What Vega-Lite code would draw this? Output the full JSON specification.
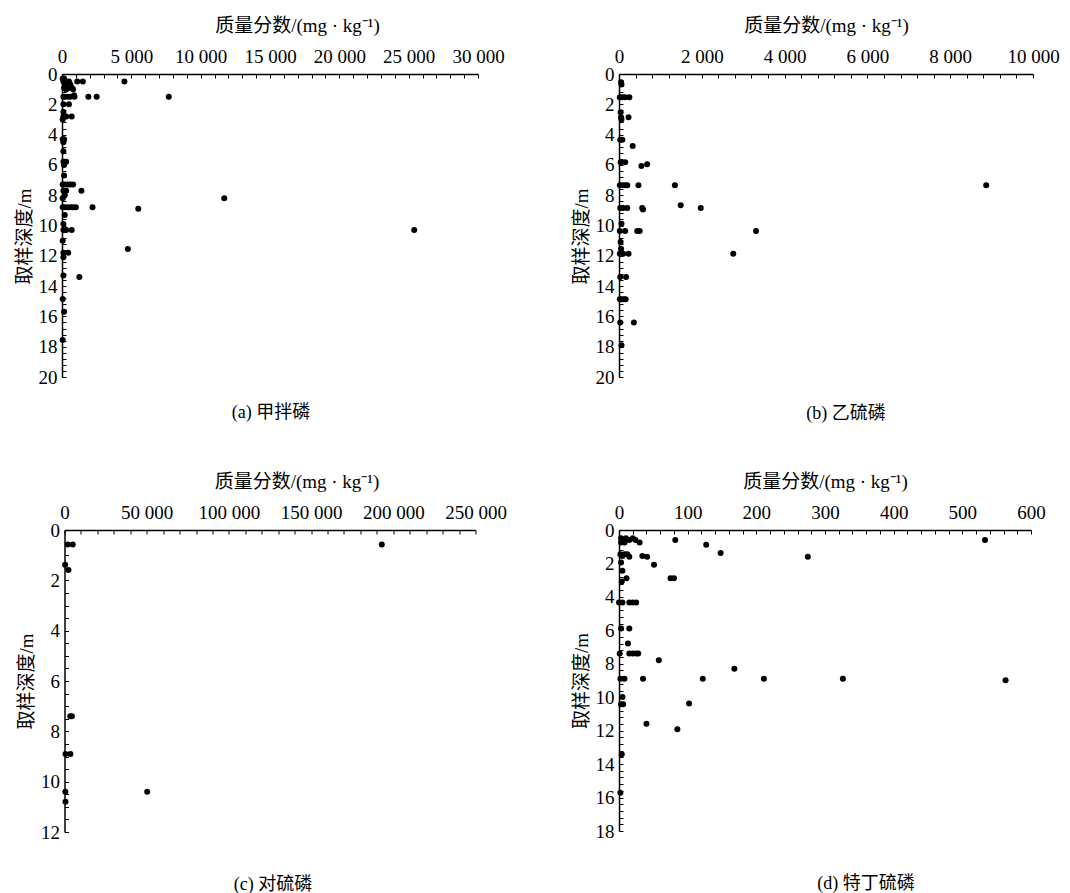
{
  "$schema": "https://vega.github.io/schema/vega-lite/v6.json",
  "background": "white",
  "padding": {"left": 15, "top": 16, "right": 0, "bottom": 0},
  "columns": 2,
  "bounds": "flush",
  "center": true,
  "spacing": {"column": 141, "row": 153},
  "datasets": {
    "a": [
      {"conc": 50, "depth": 0.3}, {"conc": 150, "depth": 0.3},
      {"conc": 100, "depth": 0.5}, {"conc": 300, "depth": 0.5}, {"conc": 500, "depth": 0.5}, {"conc": 1100, "depth": 0.5}, {"conc": 1500, "depth": 0.5}, {"conc": 4500, "depth": 0.5},
      {"conc": 200, "depth": 0.7}, {"conc": 400, "depth": 0.7}, {"conc": 600, "depth": 0.7},
      {"conc": 150, "depth": 0.9}, {"conc": 500, "depth": 0.9}, {"conc": 700, "depth": 0.9},
      {"conc": 300, "depth": 1.0}, {"conc": 800, "depth": 1.0},
      {"conc": 870, "depth": 1.4},
      {"conc": 100, "depth": 1.5}, {"conc": 200, "depth": 1.5}, {"conc": 400, "depth": 1.5}, {"conc": 600, "depth": 1.5}, {"conc": 900, "depth": 1.5}, {"conc": 1900, "depth": 1.5}, {"conc": 2500, "depth": 1.5}, {"conc": 7700, "depth": 1.5},
      {"conc": 100, "depth": 2.0}, {"conc": 500, "depth": 2.0},
      {"conc": 100, "depth": 2.5},
      {"conc": 100, "depth": 2.8}, {"conc": 300, "depth": 2.8}, {"conc": 700, "depth": 2.8},
      {"conc": 50, "depth": 3.0},
      {"conc": 50, "depth": 4.3}, {"conc": 150, "depth": 4.3}, {"conc": 100, "depth": 4.5},
      {"conc": 100, "depth": 5.1},
      {"conc": 100, "depth": 5.8}, {"conc": 200, "depth": 5.8}, {"conc": 300, "depth": 5.8}, {"conc": 150, "depth": 6.0},
      {"conc": 150, "depth": 6.7},
      {"conc": 50, "depth": 7.3}, {"conc": 200, "depth": 7.3}, {"conc": 400, "depth": 7.3}, {"conc": 600, "depth": 7.3}, {"conc": 800, "depth": 7.3},
      {"conc": 100, "depth": 7.7}, {"conc": 300, "depth": 7.7}, {"conc": 1400, "depth": 7.7},
      {"conc": 200, "depth": 8.0},
      {"conc": 50, "depth": 8.2}, {"conc": 11700, "depth": 8.2},
      {"conc": 50, "depth": 8.8}, {"conc": 200, "depth": 8.8}, {"conc": 400, "depth": 8.8}, {"conc": 600, "depth": 8.8}, {"conc": 800, "depth": 8.8}, {"conc": 1000, "depth": 8.8}, {"conc": 2200, "depth": 8.8}, {"conc": 5500, "depth": 8.9},
      {"conc": 200, "depth": 9.3},
      {"conc": 100, "depth": 9.9},
      {"conc": 100, "depth": 10.3}, {"conc": 300, "depth": 10.3}, {"conc": 700, "depth": 10.3}, {"conc": 25400, "depth": 10.3},
      {"conc": 50, "depth": 11.0},
      {"conc": 4750, "depth": 11.55},
      {"conc": 100, "depth": 11.8}, {"conc": 450, "depth": 11.8},
      {"conc": 100, "depth": 12.1},
      {"conc": 100, "depth": 13.3}, {"conc": 1250, "depth": 13.4},
      {"conc": 50, "depth": 14.85},
      {"conc": 150, "depth": 15.7},
      {"conc": 50, "depth": 17.55}
    ],
    "b": [
      {"conc": 50, "depth": 0.55}, {"conc": 60, "depth": 0.7},
      {"conc": 20, "depth": 1.53}, {"conc": 80, "depth": 1.53}, {"conc": 150, "depth": 1.53}, {"conc": 250, "depth": 1.53},
      {"conc": 40, "depth": 2.52},
      {"conc": 50, "depth": 2.85}, {"conc": 230, "depth": 2.85}, {"conc": 60, "depth": 3.0},
      {"conc": 30, "depth": 4.34}, {"conc": 80, "depth": 4.34},
      {"conc": 330, "depth": 4.76},
      {"conc": 40, "depth": 5.82}, {"conc": 150, "depth": 5.82}, {"conc": 680, "depth": 5.95}, {"conc": 540, "depth": 6.08},
      {"conc": 20, "depth": 7.35}, {"conc": 80, "depth": 7.35}, {"conc": 150, "depth": 7.35}, {"conc": 200, "depth": 7.35}, {"conc": 470, "depth": 7.35}, {"conc": 1350, "depth": 7.35}, {"conc": 8870, "depth": 7.35},
      {"conc": 1490, "depth": 8.67},
      {"conc": 30, "depth": 8.85}, {"conc": 100, "depth": 8.85}, {"conc": 200, "depth": 8.85}, {"conc": 560, "depth": 8.85}, {"conc": 1975, "depth": 8.85}, {"conc": 580, "depth": 8.95},
      {"conc": 60, "depth": 9.88},
      {"conc": 20, "depth": 10.37}, {"conc": 150, "depth": 10.37}, {"conc": 440, "depth": 10.37}, {"conc": 500, "depth": 10.37}, {"conc": 3310, "depth": 10.37},
      {"conc": 40, "depth": 11.09},
      {"conc": 50, "depth": 11.53},
      {"conc": 20, "depth": 11.86}, {"conc": 100, "depth": 11.86}, {"conc": 230, "depth": 11.86}, {"conc": 2760, "depth": 11.86},
      {"conc": 30, "depth": 13.4}, {"conc": 170, "depth": 13.4},
      {"conc": 20, "depth": 14.87}, {"conc": 60, "depth": 14.87}, {"conc": 120, "depth": 14.87}, {"conc": 160, "depth": 14.87},
      {"conc": 30, "depth": 16.41}, {"conc": 360, "depth": 16.41},
      {"conc": 60, "depth": 17.9}
    ],
    "c": [
      {"conc": 2000, "depth": 0.58}, {"conc": 5000, "depth": 0.58}, {"conc": 193000, "depth": 0.58},
      {"conc": 400, "depth": 1.38},
      {"conc": 2400, "depth": 1.59},
      {"conc": 3500, "depth": 7.4}, {"conc": 4500, "depth": 7.4},
      {"conc": 600, "depth": 8.9}, {"conc": 3600, "depth": 8.9},
      {"conc": 500, "depth": 10.4}, {"conc": 50300, "depth": 10.4},
      {"conc": 600, "depth": 10.8}
    ],
    "d": [
      {"conc": 3, "depth": 0.5}, {"conc": 10, "depth": 0.5}, {"conc": 20, "depth": 0.5},
      {"conc": 15, "depth": 0.6}, {"conc": 24, "depth": 0.6}, {"conc": 82, "depth": 0.6}, {"conc": 533, "depth": 0.6},
      {"conc": 3, "depth": 0.75}, {"conc": 8, "depth": 0.75}, {"conc": 30, "depth": 0.75},
      {"conc": 127, "depth": 0.88},
      {"conc": 148, "depth": 1.38},
      {"conc": 2, "depth": 1.45}, {"conc": 8, "depth": 1.45}, {"conc": 12, "depth": 1.45},
      {"conc": 5, "depth": 1.55}, {"conc": 34, "depth": 1.55},
      {"conc": 15, "depth": 1.6}, {"conc": 41, "depth": 1.6}, {"conc": 275, "depth": 1.6},
      {"conc": 3, "depth": 1.95},
      {"conc": 51, "depth": 2.08},
      {"conc": 5, "depth": 2.44},
      {"conc": 11, "depth": 2.88}, {"conc": 75, "depth": 2.88}, {"conc": 80, "depth": 2.88},
      {"conc": 4, "depth": 3.08},
      {"conc": 0, "depth": 4.33}, {"conc": 5, "depth": 4.33}, {"conc": 15, "depth": 4.33}, {"conc": 20, "depth": 4.33}, {"conc": 25, "depth": 4.33},
      {"conc": 3, "depth": 5.89}, {"conc": 15, "depth": 5.89},
      {"conc": 13, "depth": 6.79},
      {"conc": 1, "depth": 7.39}, {"conc": 15, "depth": 7.39}, {"conc": 20, "depth": 7.39}, {"conc": 25, "depth": 7.39}, {"conc": 28, "depth": 7.39},
      {"conc": 58, "depth": 7.79},
      {"conc": 168, "depth": 8.29},
      {"conc": 2, "depth": 8.89}, {"conc": 8, "depth": 8.89}, {"conc": 35, "depth": 8.89}, {"conc": 122, "depth": 8.89}, {"conc": 211, "depth": 8.89}, {"conc": 326, "depth": 8.89},
      {"conc": 563, "depth": 8.98},
      {"conc": 5, "depth": 9.98},
      {"conc": 3, "depth": 10.42}, {"conc": 6, "depth": 10.42}, {"conc": 102, "depth": 10.38},
      {"conc": 40, "depth": 11.58},
      {"conc": 85, "depth": 11.92},
      {"conc": 4, "depth": 13.41},
      {"conc": 2, "depth": 15.71}
    ]
  },
  "concat": [
    {
      "width": 416, "height": 303,
      "data": {"name": "a"},
      "title": {"text": "(a) 甲拌磷", "orient": "bottom", "frame": "group", "offset": 17, "dx": 1},
      "mark": {"type": "circle", "size": 36, "color": "black", "opacity": 1},
      "encoding": {
        "x": {"field": "conc", "type": "quantitative",
          "scale": {"domain": [0, 30000], "nice": false, "zero": true},
          "axis": {"orient": "top", "title": "质量分数/(mg · kg⁻¹)", "titleX": 235,
            "values": [0,1000,2000,3000,4000,5000,6000,7000,8000,9000,10000,11000,12000,13000,14000,15000,16000,17000,18000,19000,20000,21000,22000,23000,24000,25000,26000,27000,28000,29000,30000],
            "labelExpr": "datum.value % 5000 === 0 ? replace(format(datum.value, ','), ',', ' ') : ''"}},
        "y": {"field": "depth", "type": "quantitative",
          "scale": {"domain": [0, 20], "reverse": true, "nice": false},
          "axis": {"title": "取样深度/m", "titleY": 162,
            "values": [0,0.4,0.8,1.2,1.6,2,2.4,2.8,3.2,3.6,4,4.4,4.8,5.2,5.6,6,6.4,6.8,7.2,7.6,8,8.4,8.8,9.2,9.6,10,10.4,10.8,11.2,11.6,12,12.4,12.8,13.2,13.6,14,14.4,14.8,15.2,15.6,16,16.4,16.8,17.2,17.6,18,18.4,18.8,19.2,19.6,20],
            "labelExpr": "datum.value % 2 === 0 ? '' + datum.value : ''"}}
      }
    },
    {
      "width": 414, "height": 303,
      "data": {"name": "b"},
      "title": {"text": "(b) 乙硫磷", "orient": "bottom", "frame": "group", "offset": 18, "dx": 20},
      "mark": {"type": "circle", "size": 36, "color": "black", "opacity": 1},
      "encoding": {
        "x": {"field": "conc", "type": "quantitative",
          "scale": {"domain": [0, 10000], "nice": false, "zero": true},
          "axis": {"orient": "top", "title": "质量分数/(mg · kg⁻¹)",
            "values": [0,400,800,1200,1600,2000,2400,2800,3200,3600,4000,4400,4800,5200,5600,6000,6400,6800,7200,7600,8000,8400,8800,9200,9600,10000],
            "labelExpr": "datum.value % 2000 === 0 ? replace(format(datum.value, ','), ',', ' ') : ''"}},
        "y": {"field": "depth", "type": "quantitative",
          "scale": {"domain": [0, 20], "reverse": true, "nice": false},
          "axis": {"title": "取样深度/m", "titleY": 162,
            "values": [0,0.4,0.8,1.2,1.6,2,2.4,2.8,3.2,3.6,4,4.4,4.8,5.2,5.6,6,6.4,6.8,7.2,7.6,8,8.4,8.8,9.2,9.6,10,10.4,10.8,11.2,11.6,12,12.4,12.8,13.2,13.6,14,14.4,14.8,15.2,15.6,16,16.4,16.8,17.2,17.6,18,18.4,18.8,19.2,19.6,20],
            "labelExpr": "datum.value % 2 === 0 ? '' + datum.value : ''"}}
      }
    },
    {
      "width": 411, "height": 302,
      "data": {"name": "c"},
      "title": {"text": "(c) 对硫磷", "orient": "bottom", "frame": "group", "offset": 34, "dx": 3},
      "mark": {"type": "circle", "size": 36, "color": "black", "opacity": 1},
      "encoding": {
        "x": {"field": "conc", "type": "quantitative",
          "scale": {"domain": [0, 250000], "nice": false, "zero": true},
          "axis": {"orient": "top", "title": "质量分数/(mg · kg⁻¹)", "titleX": 232,
            "values": [0,10000,20000,30000,40000,50000,60000,70000,80000,90000,100000,110000,120000,130000,140000,150000,160000,170000,180000,190000,200000,210000,220000,230000,240000,250000],
            "labelExpr": "datum.value % 50000 === 0 ? replace(format(datum.value, ','), ',', ' ') : ''"}},
        "y": {"field": "depth", "type": "quantitative",
          "scale": {"domain": [0, 12], "reverse": true, "nice": false},
          "axis": {"title": "取样深度/m",
            "values": [0,0.5,1,1.5,2,2.5,3,3.5,4,4.5,5,5.5,6,6.5,7,7.5,8,8.5,9,9.5,10,10.5,11,11.5,12],
            "labelExpr": "datum.value % 2 === 0 ? '' + datum.value : ''"}}
      }
    },
    {
      "width": 412, "height": 301,
      "data": {"name": "d"},
      "title": {"text": "(d) 特丁硫磷", "orient": "bottom", "frame": "group", "offset": 34, "dx": 41},
      "mark": {"type": "circle", "size": 36, "color": "black", "opacity": 1},
      "encoding": {
        "x": {"field": "conc", "type": "quantitative",
          "scale": {"domain": [0, 600], "nice": false, "zero": true},
          "axis": {"orient": "top", "title": "质量分数/(mg · kg⁻¹)",
            "values": [0,20,40,60,80,100,120,140,160,180,200,220,240,260,280,300,320,340,360,380,400,420,440,460,480,500,520,540,560,580,600],
            "labelExpr": "datum.value % 100 === 0 ? '' + datum.value : ''"}},
        "y": {"field": "depth", "type": "quantitative",
          "scale": {"domain": [0, 18], "reverse": true, "nice": false},
          "axis": {"title": "取样深度/m",
            "values": [0,0.4,0.8,1.2,1.6,2,2.4,2.8,3.2,3.6,4,4.4,4.8,5.2,5.6,6,6.4,6.8,7.2,7.6,8,8.4,8.8,9.2,9.6,10,10.4,10.8,11.2,11.6,12,12.4,12.8,13.2,13.6,14,14.4,14.8,15.2,15.6,16,16.4,16.8,17.2,17.6,18],
            "labelExpr": "datum.value % 2 === 0 ? '' + datum.value : ''"}}
      }
    }
  ],
  "config": {
    "view": {"stroke": null},
    "font": "Liberation Serif, Noto Sans CJK SC",
    "axis": {
      "grid": false,
      "domainColor": "black", "domainWidth": 1.5,
      "tickColor": "black", "tickWidth": 1, "tickSize": -4,
      "labelFont": "Liberation Serif, Noto Sans CJK SC", "labelFontSize": 19, "labelColor": "black",
      "labelOverlap": false, "labelBound": false, "labelFlush": false,
      "titleFont": "Liberation Serif, Noto Sans CJK SC", "titleFontSize": 19, "titleFontWeight": "normal", "titleColor": "black"
    },
    "axisX": {"minExtent": 28, "maxExtent": 28, "titlePadding": 11, "labelPadding": 12},
    "axisY": {"minExtent": 24, "maxExtent": 24, "titlePadding": 4, "labelPadding": 9},
    "title": {"font": "Liberation Serif, Noto Sans CJK SC", "fontSize": 18, "fontWeight": "normal", "color": "black"}
  }
}
